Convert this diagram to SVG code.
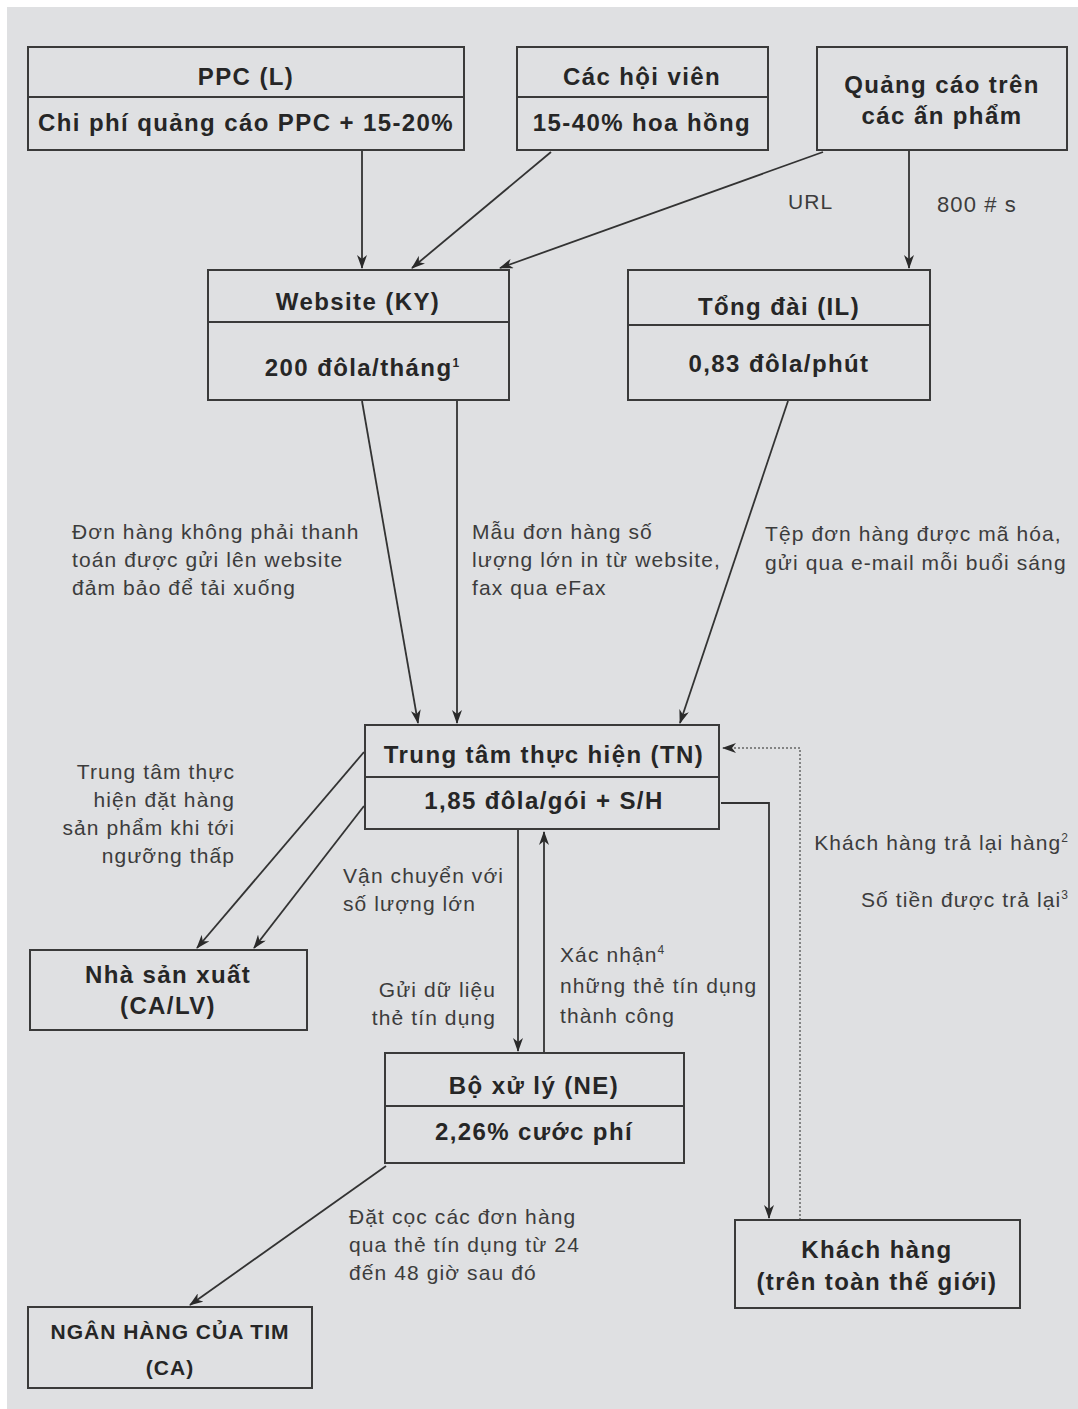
<svg xmlns="http://www.w3.org/2000/svg" width="1078" height="1409" viewBox="0 0 1078 1409">
<defs>
<style>
.box{fill:none;stroke:#3a3a3a;stroke-width:2}
.div{stroke:#3a3a3a;stroke-width:2}
.t{font-family:"Liberation Sans",Arial,sans-serif;font-weight:bold;font-size:24px;letter-spacing:1.4px;fill:#262626;text-anchor:middle}
.l{font-family:"Liberation Sans",Arial,sans-serif;font-size:21px;letter-spacing:1.1px;fill:#3c3c3c}
.c{fill:none;stroke:#333;stroke-width:1.8}
.d{fill:none;stroke:#666;stroke-width:1.5;stroke-dasharray:2 2}
.sup{font-size:12px;letter-spacing:0}
</style>
<marker id="ah" viewBox="0 0 14 10" refX="13" refY="5" markerWidth="14" markerHeight="10" markerUnits="userSpaceOnUse" orient="auto">
<path d="M0,0 L14,5 L0,10 L4,5 z" fill="#2a2a2a"/>
</marker>
</defs>
<rect x="0" y="0" width="1078" height="1409" fill="#ffffff"/>
<rect x="7" y="7" width="1071" height="1402" fill="#dfe0e2"/>

<g id="connectors">
<line class="c" x1="362" y1="150" x2="362" y2="268" marker-end="url(#ah)"/>
<line class="c" x1="551" y1="152" x2="412" y2="268" marker-end="url(#ah)"/>
<line class="c" x1="823" y1="152" x2="500" y2="268" marker-end="url(#ah)"/>
<line class="c" x1="909" y1="150" x2="909" y2="268" marker-end="url(#ah)"/>
<line class="c" x1="362" y1="401" x2="418" y2="723" marker-end="url(#ah)"/>
<line class="c" x1="457" y1="401" x2="457" y2="723" marker-end="url(#ah)"/>
<line class="c" x1="788" y1="401" x2="680" y2="723" marker-end="url(#ah)"/>
<line class="c" x1="364" y1="752" x2="197" y2="948" marker-end="url(#ah)"/>
<line class="c" x1="364" y1="806" x2="254" y2="948" marker-end="url(#ah)"/>
<line class="c" x1="518" y1="830" x2="518" y2="1051" marker-end="url(#ah)"/>
<line class="c" x1="544" y1="1053" x2="544" y2="832" marker-end="url(#ah)"/>
<polyline class="c" points="721,803 769,803 769,1218" marker-end="url(#ah)"/>
<polyline class="d" points="800,1220 800,748 723,748" marker-end="url(#ah)"/>
<line class="c" x1="386" y1="1166" x2="190" y2="1305" marker-end="url(#ah)"/>
<text class="l" x="788" y="209">URL</text>
<text class="l" x="937" y="212" style="font-size:22px">800 # s</text>
<text class="l" x="72" y="539">Đơn hàng không phải thanh</text>
<text class="l" x="72" y="567">toán được gửi lên website</text>
<text class="l" x="72" y="595">đảm bảo để tải xuống</text>
<text class="l" x="472" y="539">Mẫu đơn hàng số</text>
<text class="l" x="472" y="567">lượng lớn in từ website,</text>
<text class="l" x="472" y="595">fax qua eFax</text>
<text class="l" x="765" y="541">Tệp đơn hàng được mã hóa,</text>
<text class="l" x="765" y="570">gửi qua e-mail mỗi buổi sáng</text>
<text class="l" x="235" y="779" text-anchor="end">Trung tâm thực</text>
<text class="l" x="235" y="807" text-anchor="end">hiện đặt hàng</text>
<text class="l" x="235" y="835" text-anchor="end">sản phẩm khi tới</text>
<text class="l" x="235" y="863" text-anchor="end">ngưỡng thấp</text>
<text class="l" x="343" y="883">Vận chuyển với</text>
<text class="l" x="343" y="911">số lượng lớn</text>
<text class="l" x="496" y="997" text-anchor="end">Gửi dữ liệu</text>
<text class="l" x="496" y="1025" text-anchor="end">thẻ tín dụng</text>
<text class="l" x="560" y="962">Xác nhận<tspan class="sup" dy="-8">4</tspan></text>
<text class="l" x="560" y="993">những thẻ tín dụng</text>
<text class="l" x="560" y="1023">thành công</text>
<text class="l" x="1068" y="850" text-anchor="end">Khách hàng trả lại hàng<tspan class="sup" dy="-8">2</tspan></text>
<text class="l" x="1068" y="907" text-anchor="end">Số tiền được trả lại<tspan class="sup" dy="-8">3</tspan></text>
<text class="l" x="349" y="1224">Đặt cọc các đơn hàng</text>
<text class="l" x="349" y="1252">qua thẻ tín dụng từ 24</text>
<text class="l" x="349" y="1280">đến 48 giờ sau đó</text>
</g>

<g id="ppc">
<rect class="box" x="28" y="47" width="436" height="103"/>
<line class="div" x1="28" y1="97" x2="464" y2="97"/>
<text class="t" x="246" y="85">PPC (L)</text>
<text class="t" x="246" y="131">Chi phí quảng cáo PPC + 15-20%</text>
</g>
<g id="hoivien">
<rect class="box" x="517" y="47" width="251" height="103"/>
<line class="div" x1="517" y1="97" x2="768" y2="97"/>
<text class="t" x="642" y="85">Các hội viên</text>
<text class="t" x="642" y="131">15-40% hoa hồng</text>
</g>
<g id="quangcao">
<rect class="box" x="817" y="47" width="250" height="103"/>
<text class="t" x="942" y="93">Quảng cáo trên</text>
<text class="t" x="942" y="124">các ấn phẩm</text>
</g>
<g id="website">
<rect class="box" x="208" y="270" width="301" height="130"/>
<line class="div" x1="208" y1="322" x2="509" y2="322"/>
<text class="t" x="358" y="310">Website (KY)</text>
<text class="t" x="362" y="376">200 đôla/tháng<tspan class="sup" dy="-9">1</tspan></text>
</g>
<g id="tongdai">
<rect class="box" x="628" y="270" width="302" height="130"/>
<line class="div" x1="628" y1="325" x2="930" y2="325"/>
<text class="t" x="779" y="315">Tổng đài (IL)</text>
<text class="t" x="779" y="372">0,83 đôla/phút</text>
</g>
<g id="trungtam">
<rect class="box" x="365" y="725" width="354" height="104"/>
<line class="div" x1="365" y1="777" x2="719" y2="777"/>
<text class="t" x="544" y="763">Trung tâm thực hiện (TN)</text>
<text class="t" x="544" y="809">1,85 đôla/gói + S/H</text>
</g>
<g id="nhasanxuat">
<rect class="box" x="30" y="950" width="277" height="80"/>
<text class="t" x="168" y="983">Nhà sản xuất</text>
<text class="t" x="168" y="1014">(CA/LV)</text>
</g>
<g id="boxuly">
<rect class="box" x="385" y="1053" width="299" height="110"/>
<line class="div" x1="385" y1="1106" x2="684" y2="1106"/>
<text class="t" x="534" y="1094">Bộ xử lý (NE)</text>
<text class="t" x="534" y="1140">2,26% cước phí</text>
</g>
<g id="nganhang">
<rect class="box" x="28" y="1307" width="284" height="81"/>
<text class="t" x="170" y="1339" style="font-size:21px;letter-spacing:1px">NGÂN HÀNG CỦA TIM</text>
<text class="t" x="170" y="1375" style="font-size:21px;letter-spacing:1px">(CA)</text>
</g>
<g id="khachhang">
<rect class="box" x="735" y="1220" width="285" height="88"/>
<text class="t" x="877" y="1258">Khách hàng</text>
<text class="t" x="877" y="1290">(trên toàn thế giới)</text>
</g>
</svg>
